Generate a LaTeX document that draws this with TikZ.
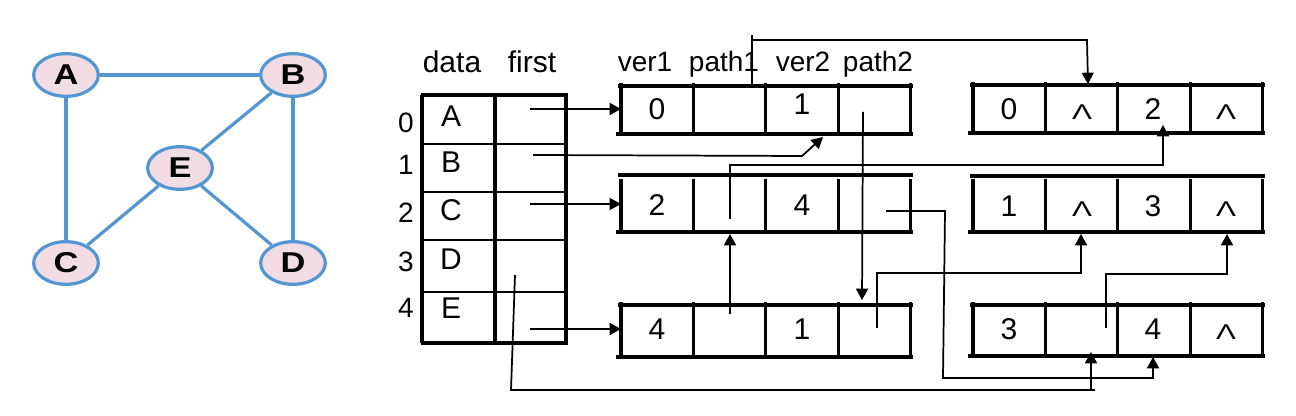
\documentclass[tikz,border=0pt]{standalone}
\usepackage{fontspec}
\setmainfont{Liberation Sans}
\usetikzlibrary{arrows.meta,shapes.geometric}
\definecolor{gblue}{RGB}{84,150,210}
\definecolor{gpink}{RGB}{243,221,229}
\newcommand{\gl}[1]{\scalebox{1.2}[1]{#1}}
\newcommand{\nilsym}{\scalebox{1.4}[1]{Λ}}
\begin{document}
\begin{tikzpicture}[x=0.75pt,y=-0.75pt,
  gnode/.style={ellipse,draw=gblue,fill=gpink,line width=2.4pt,minimum width=48.5pt,minimum height=32pt,inner sep=0pt,font=\fontsize{21.5}{24}\selectfont\bfseries},
  gedge/.style={draw=gblue,line width=2.4pt},
  txt/.style={anchor=base,inner sep=0pt,font=\fontsize{22.5}{26}\selectfont},
  hdr/.style={anchor=base,inner sep=0pt,font=\fontsize{21}{25}\selectfont},
  nil/.style={anchor=base,inner sep=0pt,font=\fontsize{16}{19}\selectfont},
  bx/.style={line width=2.3pt},
  tline/.style={line width=1.9pt},
  ptr/.style={line width=1.3pt},
  arr/.style={ptr,-{Triangle[length=8.5pt,width=9pt]}}]
\fill[white] (0,0) rectangle (1296,416);
\useasboundingbox (0,0) rectangle (1296,416);
% ---------------- graph ----------------
\node[gnode] (A) at (66,75) {\gl{A}};
\node[gnode] (B) at (293,75) {\gl{B}};
\node[gnode] (E) at (180,168) {\gl{E}};
\node[gnode] (C) at (66,263) {\gl{C}};
\node[gnode] (D) at (293,263) {\gl{D}};
\draw[gedge] (A) -- (B);
\draw[gedge] (A) -- (C);
\draw[gedge] (B) -- (D);
\draw[gedge] (B) -- (E);
\draw[gedge] (E) -- (C);
\draw[gedge] (E) -- (D);
% ---------------- vertex table ----------------
\draw[bx] (422,95) -- (422,343);
\draw[bx] (495,95) -- (495,343);
\draw[bx] (566,95) -- (566,343);
\draw[line width=3pt] (420.5,95) -- (567.5,95);
\draw[line width=3.7pt] (420.5,343) -- (567.5,343);
\foreach \yy in {144,192,240,292} \draw[tline] (422,\yy) -- (566,\yy);
\node[txt] (hdata) at (452,73) {data};
\node[txt] (hfirst) at (532,73) {first};
\node[txt] (dA) at (451,127) {A};
\node[txt] (dB) at (451,173) {B};
\node[txt] (dC) at (451,221) {C};
\node[txt] (dD) at (451,270) {D};
\node[txt] (dE) at (451,319) {E};
\node[hdr] (i0) at (406,133) {0};
\node[hdr] (i1) at (406,175) {1};
\node[hdr] (i2) at (406,223) {2};
\node[hdr] (i3) at (406,272) {3};
\node[hdr] (i4) at (406,318) {4};
% ---------------- edge boxes ----------------
\node[hdr] (hv1) at (645,72) {ver1};
\node[hdr] (hp1) at (724,72) {path1};
\node[hdr] (hv2) at (803,72) {ver2};
\node[hdr] (hp2) at (878,72) {path2};
\foreach \x/\yt/\yb/\vt in {621/86/134/83, 973/85/133/82, 621/175/232/179, 973/176/232/179, 621/305/357/302, 973/305/356/302}{
  \draw[bx] (\x-3,\yt) -- (\x+292,\yt);
  \draw[bx] (\x-5,\yb) -- (\x+292,\yb);
  \foreach \k in {0,...,4} \draw[bx] (\x+\k*72.4,\vt) -- (\x+\k*72.4,\yb+2);
}
\node[txt] (e1a) at (657,120) {0};
\node[txt] (e1b) at (802,115) {1};
\node[txt] (e2a) at (657,216) {2};
\node[txt] (e2b) at (802,216) {4};
\node[txt] (e3a) at (657,340) {4};
\node[txt] (e3b) at (802,340) {1};
\node[txt] (f1a) at (1009,120) {0};
\node[nil] (f1n1) at (1082,120) {\nilsym};
\node[txt] (f1b) at (1153,120) {2};
\node[nil] (f1n2) at (1226,120) {\nilsym};
\node[txt] (f2a) at (1009,217) {1};
\node[nil] (f2n1) at (1082,217) {\nilsym};
\node[txt] (f2b) at (1153,217) {3};
\node[nil] (f2n2) at (1226,217) {\nilsym};
\node[txt] (f3a) at (1009,340) {3};
\node[txt] (f3b) at (1153,340) {4};
\node[nil] (f3n2) at (1226,340) {\nilsym};
% ---------------- pointer coordinates ----------------
\coordinate (s0) at (530,109);  \coordinate (t0) at (621,109);
\coordinate (s1) at (533,155);  \coordinate (m1) at (802,156); \coordinate (t1) at (823,137);
\coordinate (s2) at (530,204);  \coordinate (t2) at (621,204);
\coordinate (s3) at (515,275);  \coordinate (m3) at (511,390); \coordinate (t3) at (1091,352);
\coordinate (s4) at (530,329);  \coordinate (t4) at (621,329);
\coordinate (p1a) at (752,87);  \coordinate (p1b) at (752,35); \coordinate (p1c) at (752,40); \coordinate (p1d) at (1087,40); \coordinate (p1e) at (1088,84);
\coordinate (p2a) at (863,112); \coordinate (p2b) at (862,300);
\coordinate (q1a) at (730,219); \coordinate (q1b) at (730,165); \coordinate (q1c) at (1163,125);
\coordinate (q2a) at (886,211); \coordinate (q2b) at (945,211); \coordinate (q2c) at (943,378); \coordinate (q2d) at (1153,357);
\coordinate (r1a) at (730,314); \coordinate (r1b) at (730,234);
\coordinate (r2a) at (877,328); \coordinate (r2b) at (877,273); \coordinate (r2c) at (1081,234);
\coordinate (u1a) at (1106,328); \coordinate (u1b) at (1106,274); \coordinate (u1c) at (1227,234);
% ---------------- pointers ----------------
\draw[arr] (s0) -- (t0);
\draw[arr] (s1) -- (m1) -- (t1);
\draw[arr] (s2) -- (t2);
\draw[arr] (s3) -- (m3) -| (t3);
\draw[ptr] (m3) -- (1095,390);
\draw[arr] (s4) -- (t4);
\draw[ptr] (p1a) -- (p1b);
\draw[arr] (p1c) -- (p1d) -- (p1e);
\draw[arr] (p2a) -- (p2b);
\draw[arr] (q1a) -- (q1b) -| (q1c);
\draw[arr] (q2a) -- (q2b) -- (q2c) -| (q2d);
\draw[arr] (r1a) -- (r1b);
\draw[arr] (r2a) -- (r2b) -| (r2c);
\draw[arr] (u1a) -- (u1b) -| (u1c);
\end{tikzpicture}
\end{document}
